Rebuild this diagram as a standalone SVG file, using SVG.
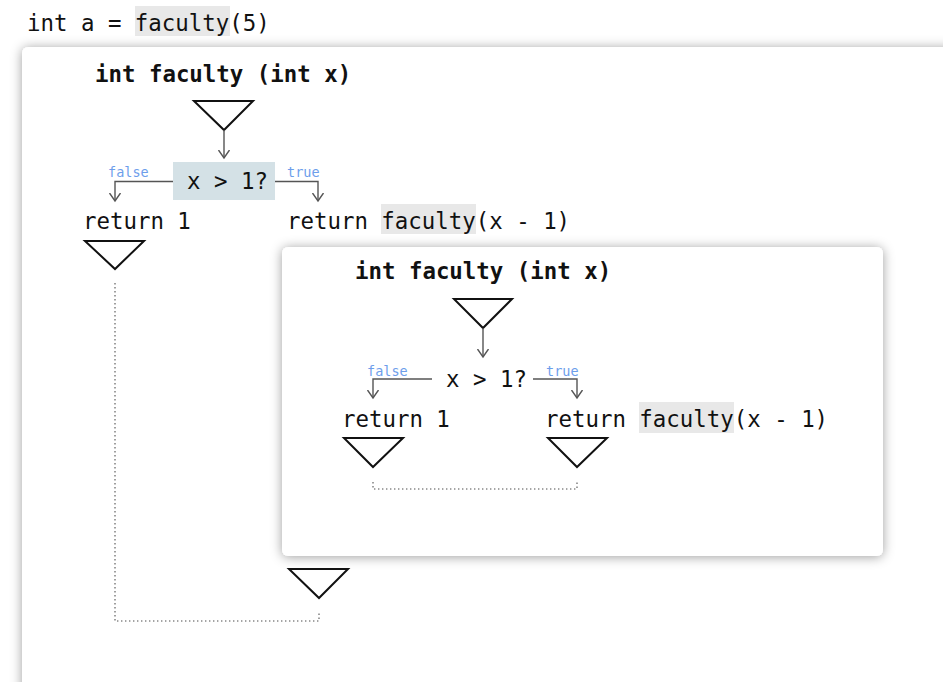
<svg xmlns="http://www.w3.org/2000/svg" width="943" height="682" viewBox="0 0 943 682">
  <style>
    .code { font-family: "DejaVu Sans Mono", "Liberation Mono", monospace; font-size: 22.4px; fill: #111; }
    .title { font-weight: bold; }
    .lbl { font-family: "DejaVu Sans Mono", "Liberation Mono", monospace; font-size: 13.5px; fill: #6d9eeb; }
    .hl { fill: #e8e8e8; }
    .card { fill: #ffffff; }
    .tri { fill: none; stroke: #111; stroke-width: 2; stroke-linejoin: miter; }
    .flow { fill: none; stroke: #555; stroke-width: 1.4; }
    .dots { fill: none; stroke: #888; stroke-width: 1.6; stroke-dasharray: 1.4 2.6; }
    .cond { fill: #d4e1e6; }
  </style>
  <defs>
    <filter id="shadow" x="-10%" y="-10%" width="120%" height="120%">
      <feDropShadow dx="0" dy="1" stdDeviation="6" flood-color="#000" flood-opacity="0.38"/>
    </filter>
    <marker id="open" viewBox="-8 -8 16 16" markerWidth="16" markerHeight="16" refX="0" refY="0" orient="auto" markerUnits="userSpaceOnUse">
      <path d="M-8,-5.5 L0,0 L-8,5.5" fill="none" stroke="#555" stroke-width="1.4"/>
    </marker>
  </defs>

  <rect width="943" height="682" fill="#ffffff"/>

  <!-- call site -->
  <g id="call">
    <rect class="hl" x="135" y="6" width="95" height="30"/>
    <text class="code" x="27" y="31">int a = faculty(5)</text>
  </g>

  <!-- outer invocation frame -->
  <g id="frame-outer">
    <rect class="card" x="22" y="47" width="960" height="680" rx="6" filter="url(#shadow)"/>
    <text class="code title" x="95" y="82">int faculty (int x)</text>
  </g>

  <g id="entry-outer">
    <path class="tri" d="M194,101 L253,101 L224,130 Z"/>
  </g>

  <g id="cond-outer">
    <rect class="cond" x="173" y="162" width="102" height="38"/>
    <text class="code" x="187" y="189">x &gt; 1?</text>
  </g>

  <g id="ret1-outer">
    <text class="code" x="83" y="229">return 1</text>
    <path class="tri" d="M85,241 L144,241 L115,269 Z"/>
  </g>

  <g id="recurse-outer">
    <rect class="hl" x="381" y="204" width="95" height="30"/>
    <text class="code" x="287" y="229">return faculty(x - 1)</text>
  </g>

  <!-- nested invocation frame -->
  <g id="frame-inner">
    <rect class="card" x="282" y="247" width="601" height="309" rx="6" filter="url(#shadow)"/>
    <text class="code title" x="355" y="279">int faculty (int x)</text>
  </g>

  <g id="entry-inner">
    <path class="tri" d="M454,299 L512,299 L483,328 Z"/>
  </g>

  <g id="cond-inner">
    <text class="code" x="446" y="387">x &gt; 1?</text>
  </g>

  <g id="ret1-inner">
    <text class="code" x="342" y="427">return 1</text>
    <path class="tri" d="M344,438 L403,438 L373,467 Z"/>
  </g>

  <g id="recurse-inner">
    <rect class="hl" x="639" y="402" width="95" height="31"/>
    <text class="code" x="545" y="427">return faculty(x - 1)</text>
    <path class="tri" d="M548,438 L607,438 L577,467 Z"/>
  </g>

  <g id="exit-outer">
    <path class="tri" d="M289,569 L348,569 L319,598 Z"/>
  </g>

  <!-- connectors -->
  <g id="connectors">
    <path class="flow" d="M224,130 L224,158" marker-end="url(#open)"/>
    <path class="flow" d="M173,181.5 L115,181.5 L115,201" marker-end="url(#open)"/>
    <path class="flow" d="M275,181.5 L318,181.5 L318,201" marker-end="url(#open)"/>
    <text class="lbl" x="108" y="177">false</text>
    <text class="lbl" x="287" y="177">true</text>

    <path class="flow" d="M483,328 L483,357" marker-end="url(#open)"/>
    <path class="flow" d="M432,379 L373,379 L373,398" marker-end="url(#open)"/>
    <path class="flow" d="M533,379 L577,379 L577,398" marker-end="url(#open)"/>
    <text class="lbl" x="367" y="376">false</text>
    <text class="lbl" x="546" y="376">true</text>

    <path class="dots" d="M373,482 L373,489 L577,489 L577,482"/>
    <path class="dots" d="M115,283 L115,621 L319,621 L319,612"/>
  </g>
</svg>
